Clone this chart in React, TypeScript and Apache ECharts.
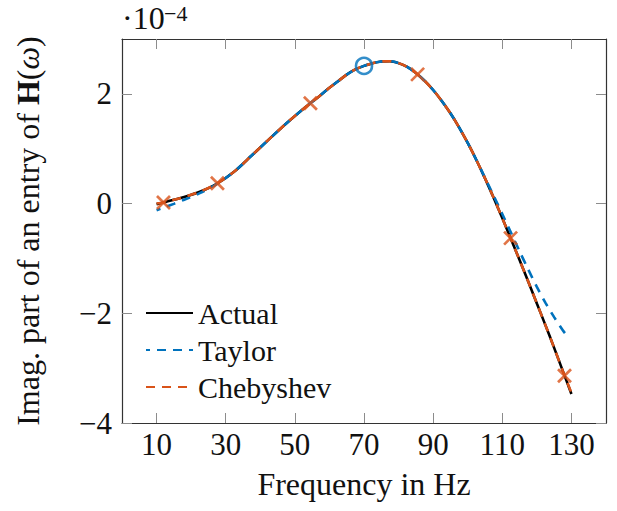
import React, { useEffect, useRef } from "react";
import * as echarts from "echarts";

// Frequency (Hz) and imaginary part values (×1e-4)
const actualX = [10, 12, 15, 18, 22.5, 27.5, 32.5, 37.5, 42.5, 47.5, 52.5, 55, 57.5, 60, 62.5, 65, 67.5, 70, 72.5, 75, 77.5, 80, 82.5, 85, 87.5, 90, 92.5, 95, 97.5, 100, 102.5, 105, 107.5, 110, 112.5, 115, 117.5, 120, 122.5, 125, 127.5, 130];
const actualY = [-0.01, 0.02, 0.07, 0.12, 0.215, 0.365, 0.585, 0.875, 1.17, 1.46, 1.73, 1.855, 1.98, 2.11, 2.23, 2.35, 2.445, 2.51, 2.56, 2.59, 2.595, 2.56, 2.49, 2.38, 2.24, 2.07, 1.87, 1.645, 1.39, 1.105, 0.795, 0.46, 0.105, -0.265, -0.645, -1.03, -1.42, -1.82, -2.22, -2.63, -3.05, -3.47];

const taylorX = [10, 12, 15, 18, 22.5, 27.5, 32.5, 37.5, 42.5, 47.5, 52.5, 55, 57.5, 60, 62.5, 65, 67.5, 70, 72.5, 75, 77.5, 80, 82.5, 85, 87.5, 90, 92.5, 95, 97.5, 100, 102.5, 105, 107.5, 110, 112.5, 115, 117.5, 120, 122.5, 125, 127.5, 128.5];
const taylorY = [-0.12, -0.075, -0.005, 0.07, 0.19, 0.36, 0.585, 0.875, 1.17, 1.46, 1.73, 1.855, 1.98, 2.11, 2.23, 2.35, 2.445, 2.51, 2.56, 2.59, 2.595, 2.56, 2.49, 2.38, 2.24, 2.07, 1.87, 1.645, 1.39, 1.105, 0.795, 0.47, 0.14, -0.19, -0.53, -0.87, -1.2, -1.52, -1.81, -2.07, -2.31, -2.39];

const chebX = [10, 12, 15, 18, 22.5, 27.5, 32.5, 37.5, 42.5, 47.5, 52.5, 55, 57.5, 60, 62.5, 65, 67.5, 70, 72.5, 75, 77.5, 80, 82.5, 85, 87.5, 90, 92.5, 95, 97.5, 100, 102.5, 105, 107.5, 110, 112.5, 115, 117.5, 120, 122.5, 125, 127.5, 130];
const chebY = [0.0, 0.02, 0.07, 0.12, 0.215, 0.365, 0.585, 0.875, 1.17, 1.46, 1.73, 1.855, 1.98, 2.11, 2.23, 2.35, 2.445, 2.51, 2.56, 2.59, 2.595, 2.56, 2.49, 2.38, 2.24, 2.07, 1.87, 1.645, 1.39, 1.105, 0.795, 0.46, 0.105, -0.265, -0.645, -1.03, -1.42, -1.82, -2.22, -2.63, -3.05, -3.45];

const nodeX = [12.0, 27.6, 54.5, 85.5, 112.4, 128.0];
const nodeY = [0.02, 0.37, 1.83, 2.355, -0.63, -3.14];

const expansionX = [70];
const expansionY = [2.51];

const xTicks = [10, 30, 50, 70, 90, 110, 130];
const yTicks = [-4, -2, 0, 2];
const legendNames = ["Actual", "Taylor", "Chebyshev"];

const BLUE = "#0072BD";
const ORANGE = "#D95319";
const FONT = "'Liberation Serif', 'Times New Roman', serif";

export default function App() {
  const ref = useRef<HTMLDivElement>(null);
  useEffect(() => {
    const chart = echarts.init(ref.current!, null, { renderer: "svg" });
    const zip = (xs: number[], ys: number[]) => xs.map((x, i) => [x, ys[i]]);
    const fmt = (v: number) => (v < 0 ? "\u2212" + Math.abs(v) : String(v));
    const frame = { onZero: false, lineStyle: { color: "#333", width: 1.2 } };
    const tick = (vals: number[]) => ({ inside: true, length: 10, customValues: vals, lineStyle: { color: "#8c8c8c", width: 1 } });
    chart.setOption({
      animation: false,
      grid: { left: 122, right: 11, top: 39, bottom: 88 },
      xAxis: [
        {
          type: "value", min: 0, max: 140, position: "bottom",
          axisLine: frame, axisTick: tick(xTicks), splitLine: { show: false },
          axisLabel: { customValues: xTicks, fontFamily: FONT, fontSize: 31, color: "#111", margin: 6 },
          name: "Frequency in Hz", nameLocation: "middle", nameGap: 45,
          nameTextStyle: { fontFamily: FONT, fontSize: 32, color: "#111" },
        },
        {
          type: "value", min: 0, max: 140, position: "top",
          axisLine: frame, axisTick: tick(xTicks), splitLine: { show: false },
          axisLabel: { show: false },
        },
      ],
      yAxis: [
        {
          type: "value", min: -4, max: 3, position: "left",
          axisLine: frame, axisTick: tick(yTicks), splitLine: { show: false },
          axisLabel: { customValues: yTicks, fontFamily: FONT, fontSize: 31, color: "#111", margin: 10, formatter: fmt },
          name: "Imag. part of an entry of {b|H}({i|ω})", nameLocation: "middle", nameGap: 78, nameRotate: 90,
          nameTextStyle: {
            fontFamily: FONT, fontSize: 32, color: "#111",
            rich: {
              b: { fontFamily: FONT, fontSize: 32, fontWeight: "bold", color: "#111" },
              i: { fontFamily: FONT, fontSize: 32, fontStyle: "italic", color: "#111" },
            },
          },
        },
        {
          type: "value", min: -4, max: 3, position: "right",
          axisLine: frame, axisTick: tick(yTicks), splitLine: { show: false },
          axisLabel: { show: false },
        },
      ],
      legend: {
        data: legendNames, orient: "vertical", left: 145, top: 298, padding: 0,
        itemWidth: 47, itemHeight: 2, itemGap: 7,
        itemStyle: { opacity: 0, borderWidth: 0 },
        textStyle: { fontFamily: FONT, fontSize: 30, color: "#111", lineHeight: 30 },
      },
      graphic: [
        { type: "text", left: 122, top: 2, style: { text: "\u00B710", font: `32px ${FONT}`, fill: "#111" } },
        { type: "text", left: 164, top: 2, style: { text: "\u22124", font: `22px ${FONT}`, fill: "#111" } },
      ],
      series: [
        {
          name: legendNames[0], type: "line", data: zip(actualX, actualY), symbol: "none", smooth: 0.3,
          lineStyle: { color: "#000", width: 2.6 }, itemStyle: { color: "#000" }, z: 2,
        },
        {
          name: legendNames[1], type: "line", data: zip(taylorX, taylorY), symbol: "none", smooth: 0.3,
          lineStyle: { color: BLUE, width: 2.6, type: [9, 7], dashOffset: 5 }, itemStyle: { color: BLUE }, z: 3,
        },
        {
          name: legendNames[2], type: "line", data: zip(chebX, chebY), symbol: "none", smooth: 0.3,
          lineStyle: { color: ORANGE, width: 2.6, type: [9, 7] }, itemStyle: { color: ORANGE }, z: 4,
        },
        {
          name: "nodes", type: "scatter", data: zip(nodeX, nodeY),
          symbol: "path://M0 0L10 10M10 0L0 10", symbolSize: 13,
          itemStyle: { color: "none", borderColor: ORANGE, borderWidth: 2.7 }, z: 5,
        },
        {
          name: "expansion", type: "scatter", data: zip(expansionX, expansionY),
          symbol: "circle", symbolSize: 16,
          itemStyle: { color: "none", borderColor: BLUE, borderWidth: 2.6 }, z: 6,
        },
      ],
    });
    return () => chart.dispose();
  }, []);
  return <div ref={ref} style={{ position: "absolute", left: 0, top: 0, width: 617, height: 511 }} />;
}
